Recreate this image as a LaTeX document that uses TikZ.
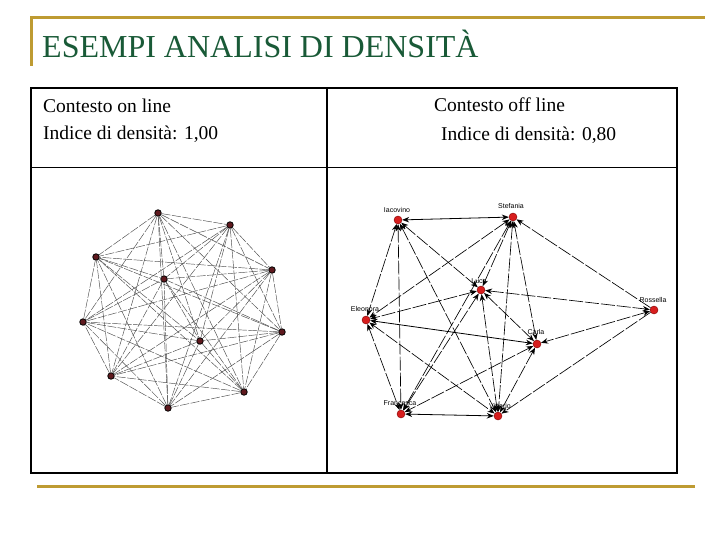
\documentclass[tikz,border=0pt]{standalone}
\usepackage{fontspec}
\setmainfont{Liberation Serif}
\newfontfamily\lblfont{Liberation Sans}
\usetikzlibrary{arrows.meta}
\definecolor{gold}{RGB}{190,155,50}
\definecolor{titlegreen}{RGB}{25,90,55}
\definecolor{nodered}{RGB}{215,30,30}
\definecolor{maroon}{RGB}{95,25,30}
\tikzset{
  goldline/.style={draw=gold,line width=3pt},
  cellline/.style={draw=black,line width=1.1pt},
  celltext/.style={anchor=base west,inner sep=0pt,font=\fontsize{19.5}{23}\selectfont},
  lnode/.style={circle,fill=maroon,draw=black,line width=0.8pt,inner sep=0pt,minimum size=6.5pt},
  ledge/.style={draw=black!70,line width=0.45pt,dash pattern=on 9pt off 1.5pt},
  rnode/.style={circle,fill=nodered,draw=red!50!black,line width=0.4pt,inner sep=0pt,minimum size=8pt},
  redge/.style={draw=black,line width=0.65pt,dash pattern=on 14pt off 2pt,{Stealth[length=7pt,width=5.5pt]}-{Stealth[length=7pt,width=5.5pt]}},
  redgeone/.style={draw=black,line width=0.65pt,dash pattern=on 14pt off 2pt,-{Stealth[length=7pt,width=5.5pt]}},
  rsolid/.style={draw=black,line width=0.8pt,{Stealth[length=7pt,width=5.5pt]}-{Stealth[length=7pt,width=5.5pt]}},
  rlabel/.style={inner sep=0pt,font=\lblfont\fontsize{7}{8}\selectfont}
}
\begin{document}
\begin{tikzpicture}[x=1pt,y=-1pt]
\useasboundingbox (0,0) rectangle (720,540);
\fill[white] (0,0) rectangle (720,540);
% gold frame
\draw[goldline] (30,18) -- (705,18);
\draw[goldline] (31,16.5) -- (31,66);
\draw[goldline] (37,486) -- (695,486);
% title
\node[anchor=base west,inner sep=0pt,text=titlegreen,font=\fontsize{32}{38}\selectfont] (title) at (42,58) {ESEMPI ANALISI DI DENSITÀ};
% table
\draw[cellline] (31,88) rectangle (677,473);
\draw[cellline] (327,88) -- (327,473);
\draw[line width=0.6pt] (31,167) -- (677,167);
\node[celltext] (t1) at (43,113) {Contesto on line};
\node[celltext] (t2) at (43,139.5) {Indice di densità: 1,00};
\node[celltext] (t3) at (434,112) {Contesto off line};
\node[celltext] (t4) at (441,140.5) {Indice di densità: 0,80};
% left graph (complete)
\node[lnode] (L1) at (158,213) {};
\node[lnode] (L2) at (230,225) {};
\node[lnode] (L3) at (272,270) {};
\node[lnode] (L4) at (282,332) {};
\node[lnode] (L5) at (244,392) {};
\node[lnode] (L6) at (168,408) {};
\node[lnode] (L7) at (111,376) {};
\node[lnode] (L8) at (83,322) {};
\node[lnode] (L9) at (96,257) {};
\node[lnode] (L10) at (164,279) {};
\node[lnode] (L11) at (200,341) {};
\foreach \i [evaluate=\i as \k using int(\i+1)] in {1,...,10}
  \foreach \j in {\k,...,11}
    \draw[ledge] (L\i) -- (L\j);
% right graph
\node[rnode] (Ia) at (398,220) {};
\node[rnode] (St) at (513,217) {};
\node[rnode] (Lu) at (481,290) {};
\node[rnode] (El) at (366,320) {};
\node[rnode] (Ro) at (654,310) {};
\node[rnode] (Ca) at (537,344) {};
\node[rnode] (Fr) at (401,414) {};
\node[rnode] (Vi) at (498,416) {};
\node[rlabel] (lIa) at (397,210) {Iacovino};
\node[rlabel] (lSt) at (511,206) {Stefania};
\node[rlabel] (lLu) at (479,281) {Luca};
\node[rlabel] (lEl) at (365,309) {Eleonora};
\node[rlabel] (lRo) at (653,300) {Rossella};
\node[rlabel] (lCa) at (536,332) {Carla};
\node[rlabel] (lFr) at (400,403) {Francesca};
\node[rlabel] (lVi) at (500,406) {Vittorio};
\draw[rsolid] (Ia) -- (St);
\draw[redge] (Ia) -- (Lu);
\draw[redge] (Ia) -- (El);
\draw[redge] (Ia) -- (Fr);
\draw[redge] (Ia) -- (Vi);
\draw[redge] (St) -- (El);
\draw[redge] (St) -- (Lu);
\draw[redge] (St) -- (Fr);
\draw[redge] (St) -- (Vi);
\draw[redge] (St) -- (Ca);
\draw[redgeone] (Ro) -- (St);
\draw[redge] (Lu) -- (El);
\draw[redge] (Lu) -- (Ro);
\draw[redge] (Lu) -- (Ca);
\draw[redge] (Lu) -- (Fr);
\draw[redge] (Lu) -- (Vi);
\draw[rsolid] (El) -- (Ca);
\draw[redge] (El) -- (Fr);
\draw[redge] (El) -- (Vi);
\draw[redge] (Ro) -- (Ca);
\draw[redgeone] (Ro) -- (Vi);
\draw[redge] (Ca) -- (Fr);
\draw[redge] (Ca) -- (Vi);
\draw[rsolid] (Fr) -- (Vi);
\end{tikzpicture}
\end{document}
